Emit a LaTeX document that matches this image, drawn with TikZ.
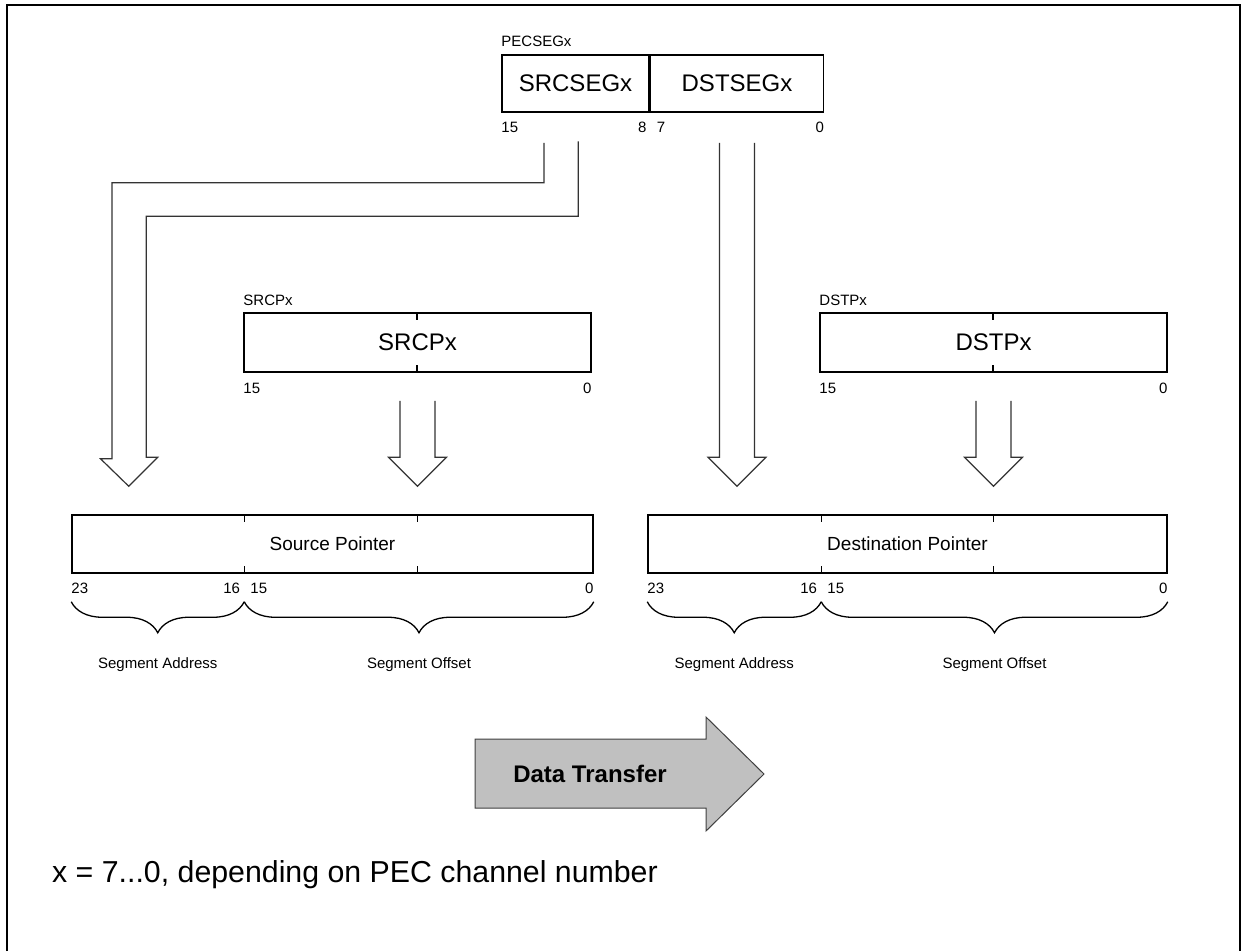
\documentclass[tikz,border=0pt]{standalone}
\usepackage{fontspec}
\setmainfont{Liberation Sans}
\usetikzlibrary{calc, decorations.pathreplacing}
\definecolor{xfergray}{RGB}{192,192,192}

% hollow block arrow pointing down, #1 = tail, #2 = tip (only its y is used)
\newcommand{\hollowdown}[2]{%
  \draw[fatarrow] let \p1=(#1), \p2=(#2) in
    (\x1-17.5pt,\y1) -- (\x1-17.5pt,\y2+29pt) -- (\x1-29pt,\y2+29pt) -- (\x1,\y2)
    -- (\x1+29pt,\y2+29pt) -- (\x1+17.5pt,\y2+29pt) -- (\x1+17.5pt,\y1);}

\begin{document}
\begin{tikzpicture}[x=1pt, y=-1pt,
  reg/.style={draw, line width=1.5pt, inner sep=0pt, font=\fontsize{24}{28}\selectfont},
  ptr/.style={draw, line width=1.5pt, inner sep=0pt, minimum height=58pt, font=\fontsize{19}{23}\selectfont},
  bits/.style={inner sep=0pt, font=\fontsize{15}{18}\selectfont},
  fatarrow/.style={line width=1.2pt, draw=black!80, line join=miter},
  seg/.style={decorate, decoration={brace, mirror, amplitude=31pt}, line width=1.3pt}]
  \useasboundingbox (0,0) rectangle (1241,951);
  \draw[line width=2pt] (7,951) -- (7,5) -- (1239.5,5) -- (1239.5,951);

  % PEC segment register
  \node[reg, minimum width=147pt, minimum height=57pt] (srcseg) at (575.5,83.5) {SRCSEGx};
  \node[reg, minimum width=173pt, minimum height=57pt, anchor=west] (dstseg) at (srcseg.east) {DSTSEGx};
  \node[bits, anchor=south west] (pecname) at ([yshift=7pt]srcseg.north west) {PECSEGx};
  \node[bits, anchor=north west] (pec15) at ([yshift=-9pt]srcseg.south west) {15};
  \node[bits, anchor=north east] (pec8) at ([xshift=-3pt,yshift=-9pt]srcseg.south east) {8};
  \node[bits, anchor=north west] (pec7) at ([xshift=7pt,yshift=-9pt]dstseg.south west) {7};
  \node[bits, anchor=north east] (pec0) at ([yshift=-9pt]dstseg.south east) {0};

  % source / destination offset registers
  \node[reg, minimum width=347pt, minimum height=59pt] (srcp) at (417.5,342.5) {SRCPx};
  \node[reg, minimum width=347pt, minimum height=59pt] (dstp) at (993.5,342.5) {DSTPx};
  \node[bits, anchor=south west] (srcpname) at ([yshift=6pt]srcp.north west) {SRCPx};
  \node[bits, anchor=south west] (dstpname) at ([yshift=6pt]dstp.north west) {DSTPx};
  \node[bits, anchor=north west] (srcp15) at ([yshift=-10pt]srcp.south west) {15};
  \node[bits, anchor=north east] (srcp0) at ([yshift=-10pt]srcp.south east) {0};
  \node[bits, anchor=north west] (dstp15) at ([yshift=-10pt]dstp.south west) {15};
  \node[bits, anchor=north east] (dstp0) at ([yshift=-10pt]dstp.south east) {0};

  % 24-bit pointers
  \node[ptr, minimum width=521pt] (srcptr) at (332.5,544) {Source Pointer};
  \node[ptr, minimum width=519pt] (dstptr) at (907.5,544) {Destination Pointer};
  \node[bits, anchor=north west] (s23) at ([yshift=-9pt]srcptr.south west) {23};
  \node[bits, anchor=north east] (s16) at ([xshift=169pt,yshift=-9pt]srcptr.south west) {16};
  \node[bits, anchor=north west] (s15) at ([xshift=179pt,yshift=-9pt]srcptr.south west) {15};
  \node[bits, anchor=north east] (s0) at ([yshift=-9pt]srcptr.south east) {0};
  \node[bits, anchor=north west] (d23) at ([yshift=-9pt]dstptr.south west) {23};
  \node[bits, anchor=north east] (d16) at ([xshift=170pt,yshift=-9pt]dstptr.south west) {16};
  \node[bits, anchor=north west] (d15) at ([xshift=180pt,yshift=-9pt]dstptr.south west) {15};
  \node[bits, anchor=north east] (d0) at ([yshift=-9pt]dstptr.south east) {0};

  \foreach \n/\d in {srcp/173.5, dstp/173.5, srcptr/173, srcptr/346, dstptr/174, dstptr/346} {
    \draw[line width=1.5pt] ([xshift=\d]\n.north west) -- ++(0,8);
    \draw[line width=1.5pt] ([xshift=\d]\n.south west) -- ++(0,-8);
  }

  % block arrows
  \coordinate (a1s) at ([xshift=-14pt,yshift=-30pt]srcseg.south);
  \coordinate (a1t) at ([xshift=57.5pt,yshift=28pt]srcptr.north west);
  \draw[fatarrow] ([xshift=-17.5pt]a1s) -- ++(0,40) -- ++(-432,0) -- ++(0,276) -- ++(-11.5,0)
    -- (a1t) -- ++(29,-29) -- ++(-11.5,0) -- ++(0,-241) -- ++(432,0) -- ++(0,-75);
  \coordinate (a2s) at ([yshift=-28pt]srcp.south);
  \coordinate (a2t) at ([yshift=28pt]srcptr.north);
  \hollowdown{a2s}{a2t}
  \coordinate (a3s) at ([yshift=-30pt]dstseg.south);
  \coordinate (a3t) at ([yshift=28pt]dstptr.north);
  \hollowdown{a3s}{a3t}
  \coordinate (a4s) at ([yshift=-28pt]dstp.south);
  \coordinate (a4t) at ([yshift=28pt]dstptr.north);
  \hollowdown{a4s}{a4t}

  % braces
  \draw[seg] ([yshift=-28pt]srcptr.south west) -- ++(173,0)
    node[bits, midway, below=55pt] (sa) {Segment Address};
  \draw[seg] ([xshift=173pt,yshift=-28pt]srcptr.south west) -- ([yshift=-28pt]srcptr.south east)
    node[bits, midway, below=55pt] (so) {Segment Offset};
  \draw[seg] ([yshift=-28pt]dstptr.south west) -- ++(174,0)
    node[bits, midway, below=55pt] (da) {Segment Address};
  \draw[seg] ([xshift=174pt,yshift=-28pt]dstptr.south west) -- ([yshift=-28pt]dstptr.south east)
    node[bits, midway, below=55pt] (do) {Segment Offset};

  % transfer arrow
  \draw[fill=xfergray, draw=black!75, line width=1pt] (475,739) -- (706,739) -- (706,717) -- (764,774)
    -- (706,831) -- (706,808) -- (475,808) -- cycle;
  \node[font=\bfseries\fontsize{24}{28}\selectfont] (xfer) at (590,774) {Data Transfer};

  \node[anchor=base west, inner sep=0pt, font=\fontsize{30.3}{36}\selectfont] (note) at (52,882)
    {x = 7...0, depending on PEC channel number};
\end{tikzpicture}
\end{document}
